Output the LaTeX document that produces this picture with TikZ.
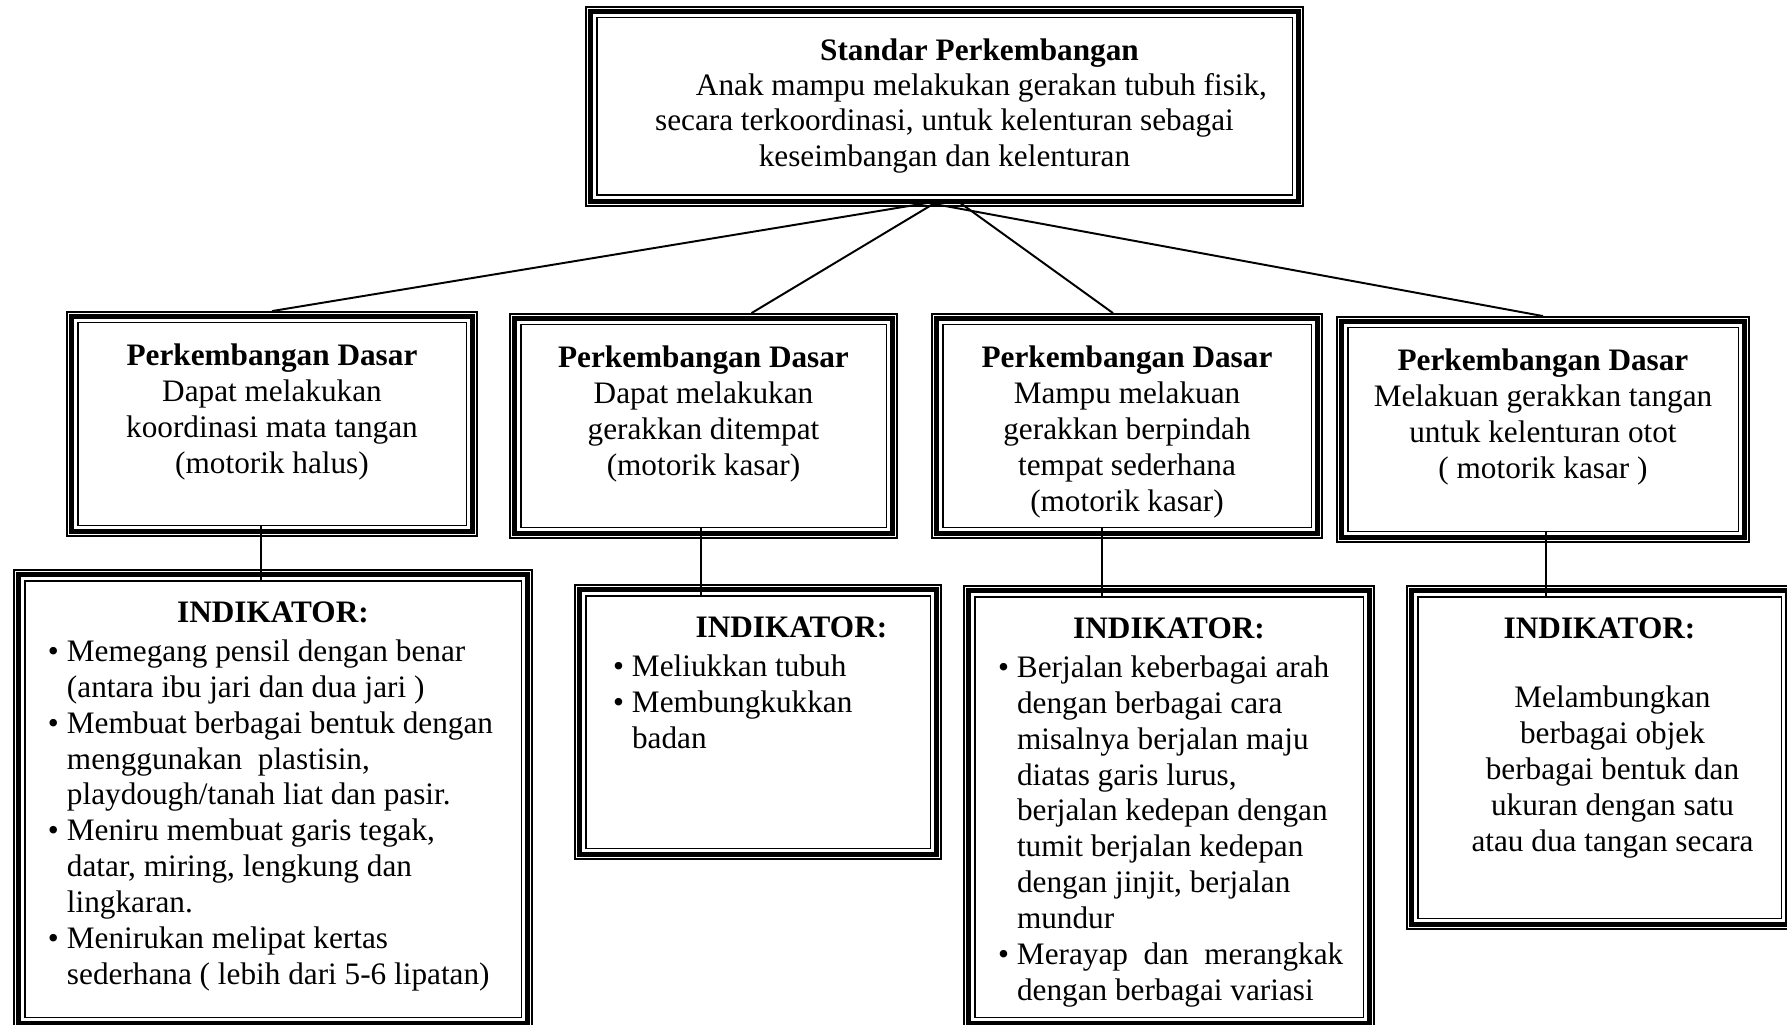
\documentclass[tikz,border=0pt]{standalone}
\usepackage{fontspec}
\setmainfont{Liberation Serif}
\newlength{\pxu}
\setlength{\pxu}{0.384pt}
\newcommand{\inbox}[3]{\parbox[c][\dimexpr#2\pxu-64\pxu\relax][t]{\dimexpr#1\pxu-24\pxu\relax}{#3}}
\newcommand{\itm}[1]{\hangindent=19\pxu\hangafter=1\noindent\makebox[19\pxu][l]{\textbullet}#1\par}
\begin{document}
\begin{tikzpicture}[x=0.384pt, y=-0.384pt,
    tribox/.style={draw, line width=0.7pt, inner xsep=4.608pt, inner ysep=12.288pt, font=\fontsize{12pt}{13.8pt}\selectfont},
    link/.style={line width=0.75pt}]
    \useasboundingbox (0,0) rectangle (1787,1025);
    \clip (0,0) rectangle (1787,1025);
    \node [tribox] (top) at (944.5,106.5) {\inbox{717}{199}{\fontsize{12pt}{13.5pt}\selectfont\centering\hspace*{70\pxu}\textbf{Standar Perkembangan}\\
        \hspace*{74\pxu}Anak mampu melakukan gerakan tubuh fisik,\\
        secara terkoordinasi, untuk kelenturan sebagai\\
        keseimbangan dan kelenturan}};
    \node [tribox] (pd1) at (272,424) {\inbox{410}{224}{\centering\textbf{Perkembangan Dasar}\\
        Dapat melakukan\\ koordinasi mata tangan\\ (motorik halus)}};
    \node [tribox] (pd2) at (703.5,426) {\inbox{387}{224}{\centering\textbf{Perkembangan Dasar}\\
        Dapat melakukan\\ gerakkan ditempat\\ (motorik kasar)}};
    \node [tribox] (pd3) at (1127,426) {\inbox{390}{224}{\centering\textbf{Perkembangan Dasar}\\
        Mampu melakuan\\ gerakkan berpindah\\ tempat sederhana\\ (motorik kasar)}};
    \node [tribox] (pd4) at (1543,429.5) {\inbox{412}{225}{\centering\textbf{Perkembangan Dasar}\\
        Melakuan gerakkan tangan\\ untuk kelenturan otot\\ ( motorik kasar )}};
    \node [tribox] (ind1) at (273,799) {\inbox{518}{458}{{\centering\textbf{INDIKATOR:}\par}\vspace{1pt}
        \raggedright\leftskip=22\pxu
        \itm{Memegang pensil dengan benar\newline (antara ibu jari dan dua jari )}
        \itm{Membuat berbagai bentuk dengan\newline menggunakan\ \ plastisin,\newline playdough/tanah liat dan pasir.}
        \itm{Meniru membuat garis tegak,\newline datar, miring, lengkung dan\newline lingkaran.}
        \itm{Menirukan melipat kertas\newline sederhana ( lebih dari 5-6 lipatan)}}};
    \node [tribox] (ind2) at (758,722) {\inbox{366}{274}{{\centering\hspace*{67\pxu}\textbf{INDIKATOR:}\par}\vspace{1pt}
        \raggedright\leftskip=26\pxu
        \itm{Meliukkan tubuh}
        \itm{Membungkukkan\newline badan}}};
    \node [tribox] (ind3) at (1169,807) {\inbox{410}{442}{{\centering\textbf{INDIKATOR:}\par}\vspace{1pt}
        \raggedright\leftskip=22\pxu
        \itm{Berjalan keberbagai arah\newline dengan berbagai cara\newline misalnya berjalan maju\newline diatas garis lurus,\newline berjalan kedepan dengan\newline tumit berjalan kedepan\newline dengan jinjit, berjalan\newline mundur}
        \itm{Merayap\ \ dan\ \ merangkak\newline dengan berbagai variasi}}};
    \node [tribox] (ind4) at (1599.5,757.5) {\inbox{385}{343}{{\centering\textbf{INDIKATOR:}\par}
        \vspace{12.8pt}
        \centering\leftskip=26\pxu plus 1fil
        Melambungkan\\ berbagai objek\\ berbagai bentuk dan\\ ukuran dengan satu\\ atau dua tangan secara\par}};
    \foreach \n in {top,pd1,pd2,pd3,pd4,ind1,ind2,ind3,ind4}{
        \draw [line width=1.8pt] ([shift={(5.5,5.5)}]\n.north west) rectangle ([shift={(-5.5,-5.5)}]\n.south east);
        \draw [line width=0.7pt] ([shift={(11.5,11.5)}]\n.north west) rectangle ([shift={(-11.5,-11.5)}]\n.south east);
    }
    \draw [link] ([shift={(1.5,-7)}]top.south) -- (pd1.north);
    \draw [link] ([shift={(-4.5,-7)}]top.south) -- ([shift={(48,0)}]pd2.north);
    \draw [link] ([shift={(11.5,-7)}]top.south) -- ([shift={(-14,0)}]pd3.north);
    \draw [link] ([shift={(-32.5,-7)}]top.south) -- (pd4.north);
    \draw [link] ([shift={(-11,-12)}]pd1.south) -- ([shift={(-12,12)}]ind1.north);
    \draw [link] ([shift={(-2.5,-12)}]pd2.south) -- ([shift={(-57,12)}]ind2.north);
    \draw [link] ([shift={(-25,-12)}]pd3.south) -- ([shift={(-67,12)}]ind3.north);
    \draw [link] ([shift={(3,-12)}]pd4.south) -- ([shift={(-53.5,12)}]ind4.north);
\end{tikzpicture}
\end{document}
